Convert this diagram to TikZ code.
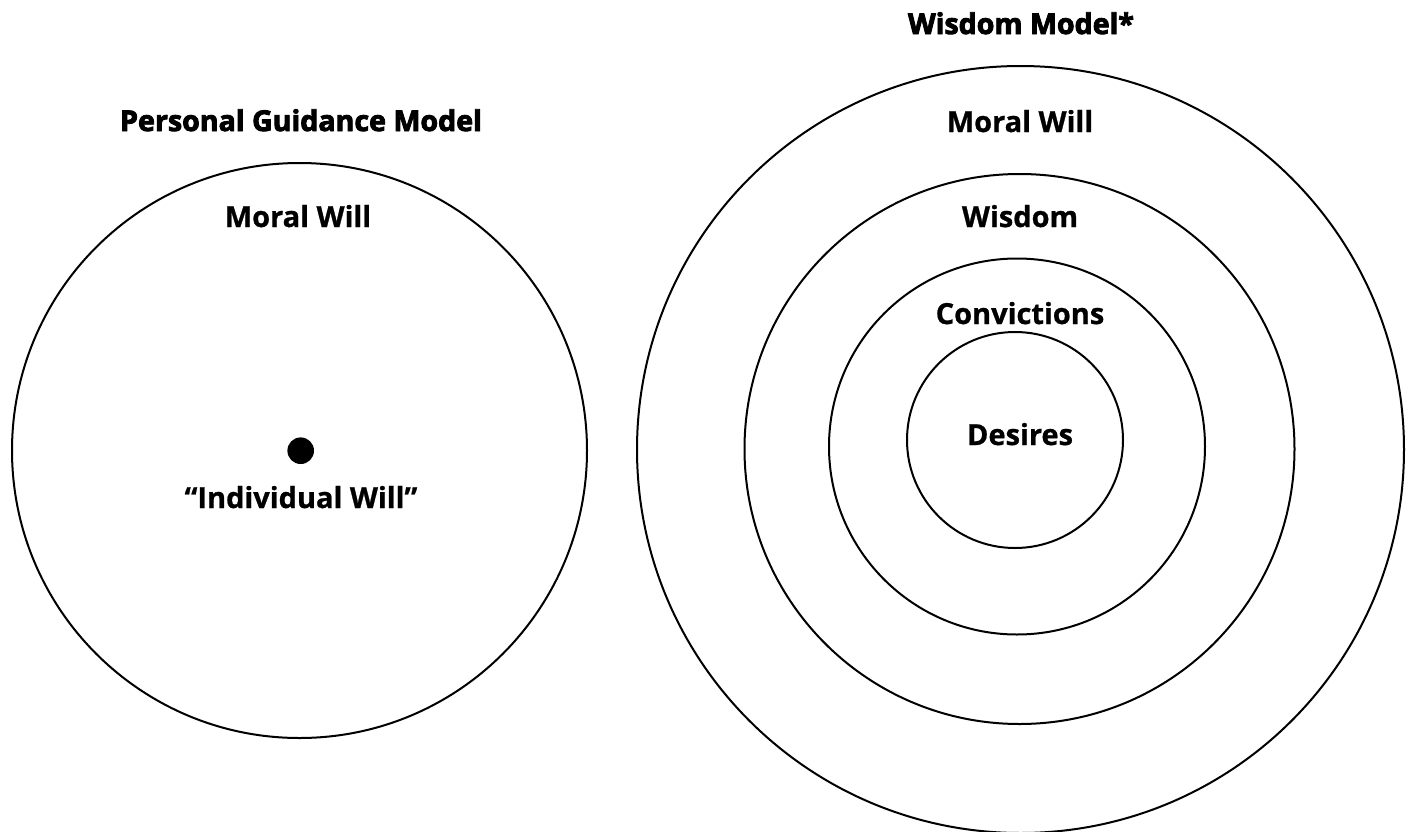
\documentclass[tikz,border=0pt]{standalone}
\usepackage{fontspec}
\usepackage{color}
\usepackage{tikz}
\setmainfont{Open Sans}[BoldFeatures={FakeBold=0.8}]
\newfontfamily\titlefont{Open Sans}[BoldFeatures={FakeBold=3}]
\definecolor{myblack}{rgb}{0.000,0.000,0.000}
\definecolor{mywhite}{rgb}{1.000,1.000,1.000}
\tikzstyle{ring}=[draw=myblack,line width=1pt]
\tikzstyle{dot}=[fill=myblack]
\tikzstyle{label}=[anchor=base,inner sep=0pt,font=\fontsize{14.5}{17}\selectfont\bfseries,text=myblack]
\tikzstyle{title}=[anchor=base,inner sep=0pt,font=\fontsize{14.3}{17}\selectfont\titlefont\bfseries,text=myblack]

\begin{document}
\begin{tikzpicture}[x=0.5pt,y=-0.5pt]
	\useasboundingbox [fill=mywhite] (0,0) rectangle (1410,831);
	% personal guidance model
		\draw [style=ring] (299.5,450.5) circle [radius=287.5];
		\fill [style=dot] (300.7,450.7) circle [radius=13.3];
		\node [style=title] (0) at (301,131) {Personal Guidance Model};
		\node [style=label] (1) at (298,227) {Moral Will};
		\node [style=label] (2) at (301,508) {“Individual Will”};
	% wisdom model
		\draw [style=ring] (1020.5,449.5) circle [radius=383.5];
		\draw [style=ring] (1019.5,449) circle [radius=275];
		\draw [style=ring] (1017,446.5) circle [radius=188];
		\draw [style=ring] (1015,440) circle [radius=108];
		\node [style=title] (3) at (1021,34) {Wisdom Model*};
		\node [style=label] (4) at (1020,132) {Moral Will};
		\node [style=label] (5) at (1020,227) {Wisdom};
		\node [style=label] (6) at (1020,324) {Convictions};
		\node [style=label] (7) at (1020,445) {Desires};
\end{tikzpicture}
\end{document}
